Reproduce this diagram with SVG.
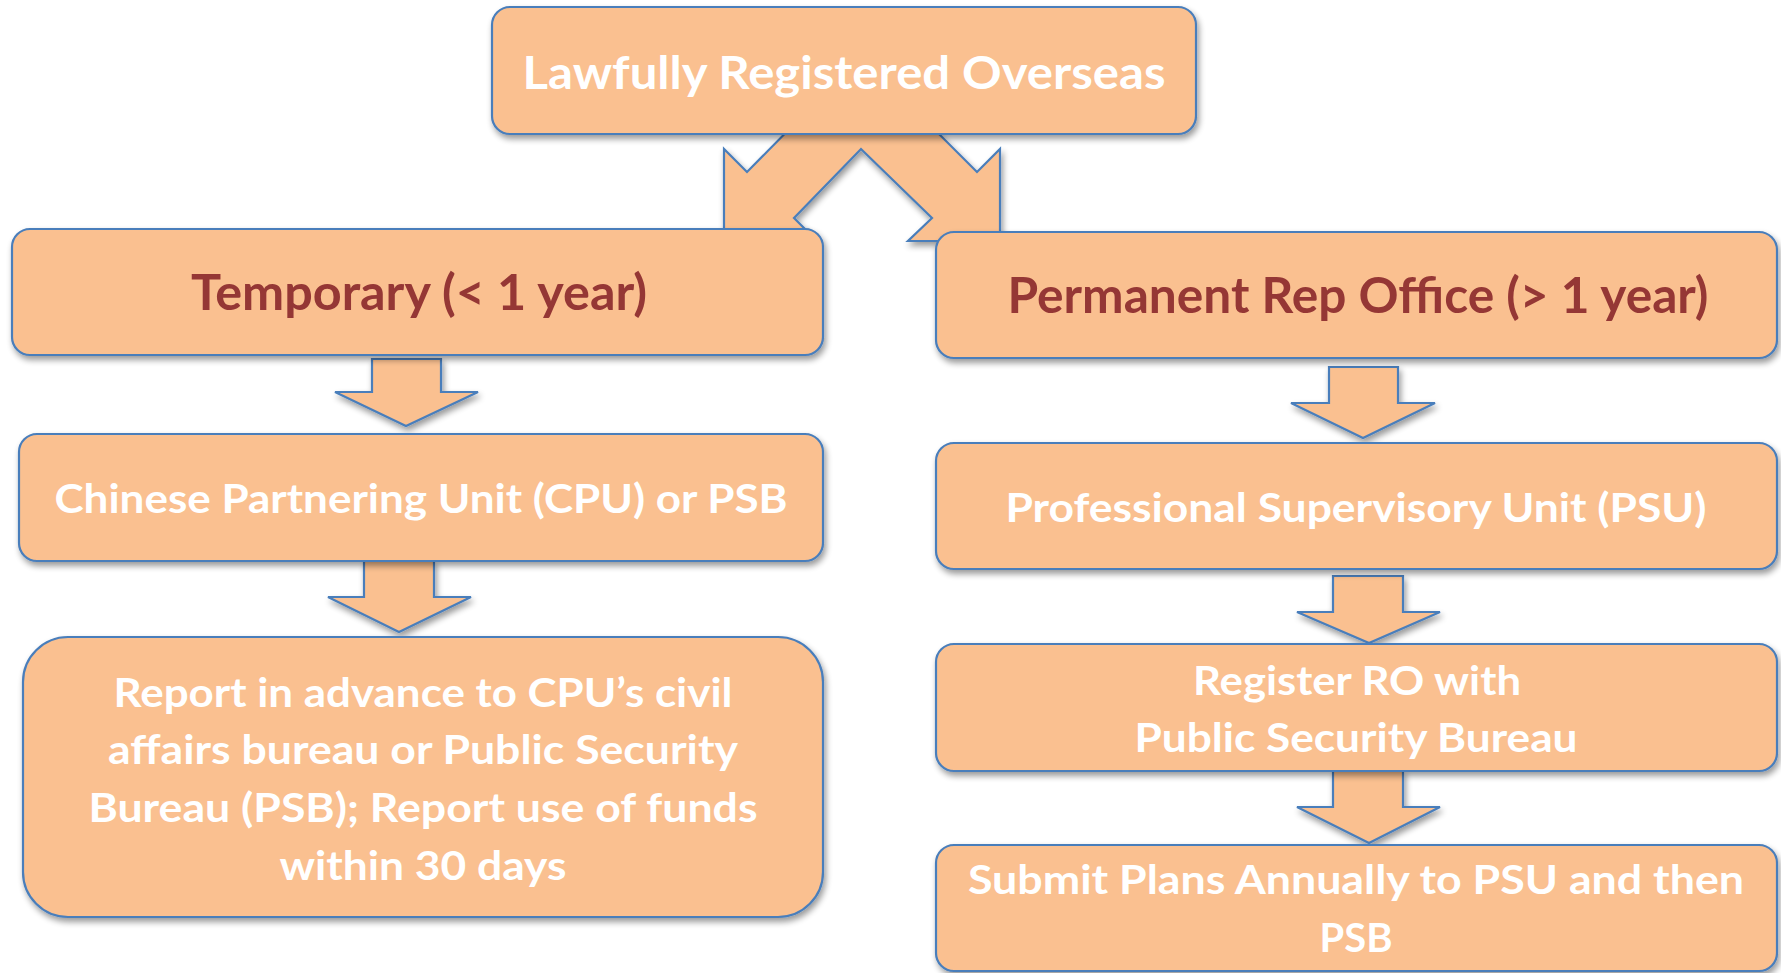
<svg xmlns="http://www.w3.org/2000/svg" width="1781" height="973" viewBox="0 0 1781 973">
<style>
.box{fill:#FAC090;stroke:#4A7EBB;stroke-width:2.2;filter:url(#sh)}
.arr{fill:#FAC090;stroke:#4A7EBB;stroke-width:2.2;stroke-linejoin:miter;filter:url(#sh)}
text{font-family:Lato,"Open Sans","Liberation Sans",sans-serif;font-weight:bold;text-anchor:middle;fill:#FFFFFF}
.t{font-size:41px}
.h{fill:#953735;font-size:49px}
.top{font-size:45px}
</style>
<defs>
<filter id="sh" x="-5%" y="-10%" width="110%" height="130%">
<feGaussianBlur in="SourceAlpha" stdDeviation="3"/>
<feOffset dx="2" dy="4" result="b"/>
<feComponentTransfer><feFuncA type="linear" slope="0.4"/></feComponentTransfer>
<feMerge><feMergeNode/><feMergeNode in="SourceGraphic"/></feMerge>
</filter>
</defs>
<rect width="1781" height="973" fill="#FFFFFF"/>
<g id="connectors">
<polygon class="arr" points="818,100 747,172 724,149 724,241 817,241 794,218 861,149 932,218 908,241 1000,241 1000,149 977,172 905,100"/>
<polygon class="arr" points="372,359 441,359 441,392 478,392 406,426 335,392 372,392"/>
<polygon class="arr" points="364,561 434,561 434,597 471,597 399,632 328,597 364,597"/>
<polygon class="arr" points="1329,367 1398,367 1398,403 1435,403 1363,438 1291,403 1329,403"/>
<polygon class="arr" points="1333,576 1403,576 1403,612 1440,612 1369,643 1297,612 1333,612"/>
<polygon class="arr" points="1333,771 1403,771 1403,807 1440,807 1369,843 1297,807 1333,807"/>
</g>
<g id="n-top">
<rect class="box" x="492" y="7" width="704" height="127" rx="18"/>
<text class="top" x="844" y="89" textLength="643" lengthAdjust="spacingAndGlyphs">Lawfully Registered Overseas</text>
</g>
<g id="n-temp">
<rect class="box" x="12" y="229" width="811" height="126" rx="18"/>
<text class="h" x="419" y="310" textLength="456" lengthAdjust="spacingAndGlyphs">Temporary (&lt; 1 year)</text>
</g>
<g id="n-perm">
<rect class="box" x="936" y="232" width="841" height="126" rx="18"/>
<text class="h" x="1358" y="313" textLength="701" lengthAdjust="spacingAndGlyphs">Permanent Rep Office (&gt; 1 year)</text>
</g>
<g id="n-cpu">
<rect class="box" x="19" y="434" width="804" height="127" rx="18"/>
<text class="t" x="421" y="513" textLength="733" lengthAdjust="spacingAndGlyphs">Chinese Partnering Unit (CPU) or PSB</text>
</g>
<g id="n-psu">
<rect class="box" x="936" y="443" width="841" height="126" rx="18"/>
<text class="t" x="1356" y="522" textLength="701" lengthAdjust="spacingAndGlyphs">Professional Supervisory Unit (PSU)</text>
</g>
<g id="n-report">
<rect class="box" x="23" y="637" width="800" height="280" rx="45"/>
<text class="t" x="423" y="707" textLength="619" lengthAdjust="spacingAndGlyphs">Report in advance to CPU’s civil</text>
<text class="t" x="423" y="764" textLength="630" lengthAdjust="spacingAndGlyphs">affairs bureau or Public Security</text>
<text class="t" x="423" y="822" textLength="669" lengthAdjust="spacingAndGlyphs">Bureau (PSB); Report use of funds</text>
<text class="t" x="423" y="880" textLength="287" lengthAdjust="spacingAndGlyphs">within 30 days</text>
</g>
<g id="n-ro">
<rect class="box" x="936" y="644" width="841" height="127" rx="18"/>
<text class="t" x="1357" y="695" textLength="328" lengthAdjust="spacingAndGlyphs">Register RO with</text>
<text class="t" x="1356" y="752" textLength="443" lengthAdjust="spacingAndGlyphs">Public Security Bureau</text>
</g>
<g id="n-submit">
<rect class="box" x="936" y="845" width="841" height="126" rx="18"/>
<text class="t" x="1356" y="894" textLength="776" lengthAdjust="spacingAndGlyphs">Submit Plans Annually to PSU and then</text>
<text class="t" x="1356" y="952" textLength="73" lengthAdjust="spacingAndGlyphs">PSB</text>
</g>
</svg>
